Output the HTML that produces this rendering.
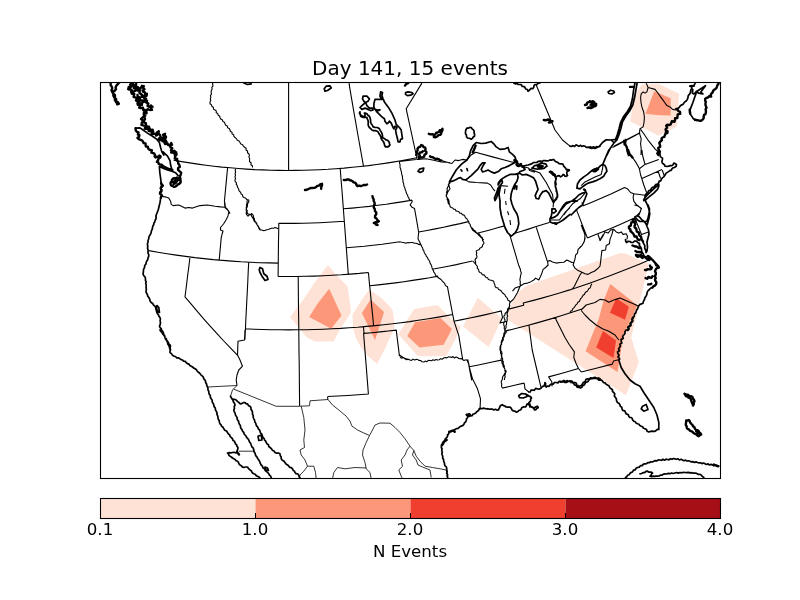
<!DOCTYPE html>
<html><head><meta charset="utf-8"><title>Day 141, 15 events</title>
<style>
html,body{margin:0;padding:0;background:#fff;}
body{width:800px;height:600px;overflow:hidden;position:relative;font-family:"DejaVu Sans","Liberation Sans",sans-serif;color:#000;}
svg{position:absolute;left:0;top:0;}
text{font-family:"DejaVu Sans","Liberation Sans",sans-serif;fill:#000;}
</style></head><body>
<svg width="800" height="600" viewBox="0 0 800 600">
<defs><clipPath id="ax"><rect x="100.5" y="82.5" width="620" height="396"/></clipPath></defs>
<rect x="0" y="0" width="800" height="600" fill="#fff"/>
<g clip-path="url(#ax)">
<g stroke="none">
<path d="M328,265 L336.2,275 L347.5,286.2 L349.4,298.8 L351,312.5 L346.2,320 L340,328.8 L333.8,341.5 L315,341.5 L306.9,337.5 L290,316.9 L303.8,299 L313.8,283.8 L322.5,272Z" fill="#fee2d5"/>
<path d="M329.2,288.8 L341.5,315.5 L331.2,328.8 L309.2,317 L317.5,303.8Z" fill="#fc9879"/>
<path d="M369.4,289.4 L382.5,298.8 L392.5,309.4 L393.8,317.5 L394.4,328.1 L388.8,340 L384.4,350 L377,364 L366.9,355 L361.2,347.5 L356.2,338.8 L353.1,328.1 L352.5,314.4 L362.5,298.8Z" fill="#fee2d5"/>
<path d="M370.6,299.4 L384,311.9 L381.2,321.2 L375,340 L361.9,313.1Z" fill="#fc9879"/>
<path d="M398.5,334.3 L408,318.5 L414.2,309 L435.5,305.3 L437.8,305.3 L446,313.7 L455.3,322.4 L461,327.1 L455.3,339.5 L446.8,355 L445.5,356.2 L419.2,356.2 L417.4,355.7 L407.8,345Z" fill="#fee2d5"/>
<path d="M407.3,336 L415.1,322.3 L440.5,318 L451.9,329 L443.7,344.7 L419.5,347.5Z" fill="#fc9879"/>
<path d="M477.8,297.8 L502,318.5 L488.6,346.9 L463,326.5Z" fill="#fee2d5"/>
<path d="M620.5,253 L626.2,253.8 L636,258.5 L649,263.5 L631.2,337.5 L638.8,362 L626,395.3 L508.3,320.3 L508,316 L509.1,309.8 L512.5,301.1 L519.6,291.4 L526,286Z" fill="#fee2d5"/>
<path d="M610.3,284 L637.3,305.3 L632.5,316.2 L625,331.2 L622.5,341.2 L619.4,360 L617.5,372 L585.6,351.2 L598.8,318.8 L603.8,300Z" fill="#fc9879"/>
<path d="M616.2,298.3 L628.9,306.7 L625,319.8 L610,312.8Z" fill="#f03f2e"/>
<path d="M603,331 L616,340.4 L613.5,358 L596.2,347.6Z" fill="#f03f2e"/>
<path d="M642.2,84.3 L659.5,84.3 L679,93.7 L678.2,109.5 L676.7,126.7 L658.7,135.7 L642.2,127.5 L630.2,121.5 L632.5,106.5 L637.7,90Z" fill="#fee2d5"/>
<path d="M654.2,91.2 L670.7,98.2 L670.7,115.5 L658.7,115.2 L645.5,113.7Z" fill="#fc9879"/>
<path d="M577,325.2 L578,325.2 L577.5,326.2Z" fill="#ffffff"/>
</g>
<g fill="none" stroke="#000" stroke-width="1.1" stroke-linejoin="round">
<path d="M227.6,167.6 L226.8,176.1 L226,184.6 L225.2,193 L224.4,201.5 M221.3,236.9 L220.6,244.7 L219.9,252.4 L219.2,260.1 M148.7,250.6 L157.9,252.2 L167.1,253.7 L176.3,255.1 L185.6,256.4 L194.8,257.6 L204.1,258.6 L213.3,259.6 L222.6,260.4 L231.9,261.1 L241.1,261.8 L250.4,262.3 L259.7,262.7 L269,262.9 L278.2,263.1 M190,257 L188.8,266.9 L187.5,276.8 L186.3,286.8 L185,296.8 L191.2,304.2 L197.5,311.7 L203.9,319.1 L210.4,326.4 L217,333.7 L223.8,341 L230.6,348.2 L237.6,355.3 M248.7,262.2 L248.2,271.8 L247.8,281.5 L247.3,291.2 L246.8,300.8 L246.3,310.5 L245.8,320.2 L245.4,329.9 L244.9,339.7 M278.1,276.4 L278.2,267.6 L278.3,258.7 L278.4,249.8 L278.5,241 L278.7,232.2 L278.8,223.3 L287,223.4 L295.2,223.4 L303.4,223.2 L311.6,223 L319.8,222.7 L328,222.3 L336.1,221.8 L344.3,221.3 M340.2,168.4 L341,179 L341.9,189.5 L342.7,200.1 L343.5,210.7 L344.3,221.3 L345.1,231.8 L345.9,242.4 L346.7,253 L347.5,263.6 L348.3,274.3 M278.1,276.4 L287.1,276.5 L296.2,276.5 L305.2,276.3 L314.2,276.1 L323.3,275.7 L332.3,275.3 L341.3,274.8 L350.3,274.1 L359.4,273.4 L368.4,272.5 M298.2,276.4 L298.3,287.2 L298.4,297.9 L298.5,308.7 L298.7,319.4 L298.8,330.2 L298.9,341 L299,351.8 L299.2,362.7 L299.3,373.5 L299.4,384.4 L299.5,395.3 L299.6,406.3 M245.4,328.8 L254.1,329.2 L262.7,329.5 L271.4,329.7 L280,329.8 L288.7,329.9 L297.3,329.8 L306,329.7 L314.6,329.5 L323.3,329.2 L332,328.8 L340.6,328.4 L349.3,327.8 L357.9,327.2 L366.5,326.4 L375.2,325.6 L383.8,324.7 L392.5,323.8 L401.1,322.7 L409.7,321.6 L418.3,320.3 L426.9,319 L435.5,317.6 L444.1,316.1 L452.7,314.5 M368.4,272.5 L369.4,283.1 L370.5,293.8 L371.5,304.4 L372.6,315.1 L373.6,325.8 M369.7,285.8 L378.3,284.9 L386.9,283.9 L395.4,282.9 L404,281.7 L412.5,280.4 L421.1,279.1 L429.6,277.7 L438.1,276.1 M363.5,326.7 L364,333.4 L363.6,333.4 L364.4,343.5 L365.2,353.6 L366,363.6 L366.8,373.8 L367.6,383.9 L368.4,394 L358.1,394.8 L347.9,395.5 L337.7,396 L327.5,396.5 M364,333.4 L372.1,332.7 L380.2,331.9 L388.2,331 L396.3,330.1 L397.3,338.7 L398.4,347.4 L399.4,356.1 M343.4,208.8 L352,208.1 L360.6,207.3 L369.2,206.4 L377.7,205.3 L386.3,204.2 L394.9,202.9 L403.4,201.6 L412,200.1 M346.3,247.7 L355.3,247 L364.3,246.2 L373.2,245.2 L382.2,244.2 L391.1,243 L400,241.8 M412,200.1 L412.1,201.7 L410.2,204.8 L412.1,207.3 L414.5,208.4 L416.6,220.2 L418.6,232 L427,230.5 L435.3,228.9 L443.6,227.2 L451.8,225.4 L460.1,223.6 L468.4,221.6 M432.1,269.3 L440.2,267.8 L448.3,266.2 L456.4,264.6 L464.5,262.8 L472.5,261 M447.4,286.4 L449,295.1 L450.7,303.8 L452.3,312.5 L454,321.2 L458.8,335.6 L462.6,359.1 M454,321.2 L461.9,319.6 L469.9,318 L477.8,316.4 L485.8,314.6 L493.7,312.8 L501.6,310.9 M467.8,359.4 L469.7,369.8 L471.7,380.3 M469.2,366.7 L477.2,365.2 L485.3,363.5 L493.4,361.8 L501.4,360.1 M502.1,388.1 L509.4,386.5 L516.7,384.8 L524,383.1 M504.9,331.1 L512.7,329.2 L520.5,327.2 L528.3,325.2 L536.1,323.1 L543.9,320.9 L551.7,318.6 L559.5,316.2 L567.3,313.8 L575.1,311.3 L582.8,308.8 M587.4,237.9 L595.2,234.8 L602.9,231.7 L610.7,228.5 L618.4,225.2 L626.1,221.8 L633.8,218.3 M587.4,237.9 L583.6,228.2 L579.9,218.6 L576.1,208.9 M581.8,202.4 L583.2,205.8 L590.1,202.9 L597.1,200 L604,197 L610.9,194 L617.8,190.8 L624.6,187.6 M547.3,261.1 L543.6,249.8 L539.9,238.6 L536.3,227.4 M513,233.8 L520.7,231.5 L528.5,229.1 L536.2,226.6 L549.3,222.5 M509.8,234.8 L512.8,245.2 L515.9,255.7 L518.9,266.2 M477.1,233.3 L484,231.5 L490.8,229.7 L497.6,227.8 L504.4,225.9 M288.6,170.5 L288.6,155 L288.6,139.6 L288.6,124.2 L288.6,108.7 L288.6,93.3 L288.6,77.8 M363.5,166.2 L358.8,140 L354.2,113.8 L349.7,87.7 L347.9,74.5 L344.9,48.1 M159.4,165.6 L167.5,169 L173.1,170.6 M161.2,196.5 L165.6,196.9 L168.8,198.1 L170.6,201.2 L171.2,204.4 L173.1,205.6 L178.8,205 L185,208.1 L188.8,207.5 L192.5,208.1 L200,205.6 L207.5,205 L215,206.2 L220.6,206.9 L224.4,207.2 M224.4,202.5 L225,207.5 L228.8,211.2 L230,213.8 M235.5,168.8 L235.2,170.3 L235.6,172 L235.1,173.6 L235.5,175.2 L235,176.8 L235.5,178.4 L235,180 L235.2,181.6 L236.4,182.7 L236.3,184.4 L237.3,185.7 L237.4,187.2 L238.5,188.5 L238.8,190 L239.4,191.4 L240.7,192.3 L241,193.9 L242.4,194.8 L242.7,196.4 L243.8,197.5 L245.5,198.1 L246.9,199.5 L248.8,200 L248.8,201.8 L247.7,203.3 L247.5,205 L247.3,206.7 L246.5,208.3 L246.2,210 L246.4,211.8 L246.2,213.5 L246.9,215 L248,216.2 L249,215.1 L250.5,214.6 L251.5,213.5 L252.7,214.6 L253.5,216 L253.4,217.4 L254.4,218.6 L254.5,220 L255.2,221.6 L256.6,222.8 L257,224.5 L257.8,226.1 L259,227.5 L259.8,228.6 L260,230 M213,82.5 L212.5,84.1 L213,85.9 L211.8,87.4 L212.1,89.2 L211.2,90.8 L211.2,92.5 L211.4,94.1 L210.4,95.7 L210.9,97.3 L210.3,98.9 L210.8,100.6 L210,102.1 L210,103.8 L211.4,104.7 L211.9,106.4 L213.3,107.2 L213.6,109.1 L215,110 L216.3,110.9 L216.2,112.8 L217.8,113.5 L218.1,115.2 L219.6,116 L220,117.5 L220.7,119 L222.3,119.7 L222.9,121.4 L224.4,122.2 L225,123.8 L225.7,125.2 L227.3,126 L227.6,127.8 L229.3,128.5 L230,130 L230.4,131.6 L232,132.3 L232.1,134 L233.7,134.7 L233.9,136.4 L235,137.5 L236.4,138.6 L237.3,140.2 L239,141 L240,142.5 L240.9,144.1 L242.7,144.8 L243.6,146.4 L245,147.5 L246.2,148.5 L246.1,150.3 L247.6,151.1 L247.5,152.8 L248.8,153.8 L249.4,155.3 L248.9,156.9 L249.6,158.4 L249.5,160 L249.6,161.7 L251.1,162.8 L250.9,164.7 L252.4,165.8 L252.5,167.5 M421.9,83.1 L406.2,108.8 L416.2,155 M399.5,161.5 L399.5,163.1 L400.1,164.6 L400,166.2 L400.1,167.8 L400.8,169.1 L400.9,170.6 L401.5,172.1 L401.6,173.6 L402,175 L402.5,176.6 L402.4,178.4 L403,180 L402.9,181.7 L403.6,183.3 L403.8,185 L404.1,186.5 L404.9,188 L405.1,189.5 L405.9,191 L406.2,192.5 L406.8,194 L407.6,195.3 L408,196.8 L408.9,198.1 L409.3,199.6 L410,201 M465.6,180 L468.8,181.9 L476.2,182.5 L487.5,183.1 L490.6,185 L493.1,188.8 L495,191.2 M449.4,181.9 L448.8,185 L450,188.8 L447.5,192.5 L446.2,196.2 L448.8,200 L449.4,205 M500,185.6 L508.1,186.2 M505,188.8 L504.4,193.8 M505.6,201.2 L506.2,205 M507.5,211.2 L508.8,215 M510,220 L510.6,225 M470,225 L472.5,230 L477.5,233.8 L482.5,238.8 L483.8,240 M639.4,133.1 L641.2,138.8 L640.6,143.8 L641.2,148.8 L641,155 M640.6,129.4 L643.8,133.8 L648.8,141.2 L655,148.8 L658.8,152.5 M632.5,157.5 L635.6,161.9 L638.1,166.2 L639.4,168.8 L640.6,175 L641.9,178.8 L643.8,185 L645.6,190 L646.9,193.1 M641.9,150 L642.5,155 L643.8,160 L645,164.4 M639.4,168.8 L645,164.4 L658.8,159.4 M641.9,178.5 L658.1,171.2 L661.9,169.6 M658.1,171.2 L660.6,178.5 M662.2,170 L664.4,176 M624.4,187.5 L627.5,188.8 L630.6,192.5 L633.8,193.8 L633.1,197.5 L633.8,201.2 L636.2,204.4 L639.4,206.9 L641.2,208.8 L640,212.5 L637.5,215 L635.6,216.9 M633.8,193.8 L645,195.2 M583.5,230 L585,235.6 L584.4,241.2 L581.9,245.6 L580,246.9 M598.1,234.4 L600,240.6 L603.1,235.6 L605,231.9 L608.1,233.1 L610.6,230 L613.8,229.4 L616.2,231.9 L618.8,233.1 L621.2,231.9 L623.1,234.4 L626.2,233.8 L627.5,236.2 L626.9,239.4 M247.5,200 L246.9,201.4 L247.2,203 L246.5,204.5 L246.7,206 L246.2,207.5 L246.3,209.1 L247.2,210.6 L247.1,212.2 L247.5,213.8 L249.4,214.3 L251.2,215 L251.9,216.7 L253.1,218.3 L253.8,220 L254.4,221.5 L255.7,222.4 L256.4,223.8 L257.5,225 L258.5,226.6 L258.9,228.5 L260,230 L261.7,230 L263.3,230.6 L265,230.5 L266.6,229.7 L268.4,229.5 L270,228.8 L271.6,228.2 L273.4,228.2 L275,227.5 L276.6,228 L278,228.8 M245,330 L244.5,340 L238,341.2 L237.5,355 L240,360 L242.5,366.2 L238.8,370 L237,375 L236.2,380 L237,385.5 M327.5,397 L328,399.5 M399.5,355 L403.8,358 L410,360 M469,365.8 L472.5,378.8 L477.5,388.8 L480.5,398.8 L480,410 M507.5,330 L506.4,331.1 L506.1,332.6 L505.1,333.6 L504.5,335 L504.2,336.6 L503.1,338 L503.4,339.8 L502.5,341.2 L501.6,342.7 L501.6,344.5 L500.3,345.8 L500,347.5 L500.8,349 L500.7,350.7 L501.8,352.1 L502,353.8 L501.6,355.4 L501.9,357.2 L501.1,358.8 L501.2,360.5 L502,361.8 L502,363.4 L503,364.6 L503,366.2 L503.8,367.5 L504.7,368.7 L505.2,370.1 L506.2,371.2 L505.7,372.6 L504.4,373.6 L504,375.1 L503,376.2 L502.4,377.8 L502.4,379.5 L501.4,380.9 L501.2,382.5 L501.8,384.1 L501.5,385.9 L502,387.5 M524.2,383.2 L525,388.8 L528.8,392 M400,357 L401.5,358.1 L403.6,357.5 L405,358.8 L406.5,359.7 L408.4,359.3 L410,360 L411.5,360.4 L413,359.1 L414.5,360 L416,359.4 L417.5,359.5 L418.9,360.4 L420.7,360.5 L422,361.8 L423.8,362 L425.2,361.1 L427,361.7 L428.3,360.4 L430,360.5 L431.5,360.7 L433,359.8 L434.5,360.4 L436,359.5 L437.5,360 L439.2,359.8 L440.5,358.7 L442.4,359.1 L443.8,358 L445.3,357.5 L446.9,357.9 L448.4,356.9 L450,357 L451.5,357.4 L453,356.6 L454.5,358 L456,357 L457.5,357.5 L458.9,358.7 L461,358.5 L462.5,359.5 L464,360.5 L465.9,359.8 L467.5,360.5 L467.8,362.3 L468.9,363.9 L469,365.8 M418.8,231.8 L418,238.8 L421.2,245.2 M400.2,241.8 L401.8,242.3 L403.4,242.5 L405,243 L406.5,243.1 L408,242.6 L409.5,242.8 L411,242.5 L412.5,242.5 L414.1,243.1 L415.9,243.2 L417.5,243.8 L418.7,244.4 L420.1,244.6 L421.2,245.2 L421.7,246.7 L422.7,248 L422.9,249.6 L423.9,250.9 L424.2,252.4 L425,253.8 L425.9,254.9 L426.3,256.4 L427.4,257.4 L427.9,258.8 L428.8,260 L429.7,261.6 L430.2,263.4 L431.2,265 L431.8,266.4 L432,267.9 L432.5,269.2 L433.4,270.6 L433.8,272.2 L434.9,273.4 L435.4,274.9 L436.2,276.2 L437.6,276.9 L438.7,278 L440,278.8 L441.4,279.9 L442.4,281.3 L443.8,282.5 L444.8,283.6 L445.2,285.1 L446.2,286.2 L448,286.5 M473,261 L476.2,265 M450.8,180 L449.7,181.3 L449.9,183.2 L448.4,184.3 L448.4,186.1 L447.5,187.5 L447,189 L447.4,190.6 L446.5,192 L446.9,193.6 L446.2,195 L446.4,196.6 L447.4,197.9 L447.1,199.5 L448,200.9 L448,202.5 L448.6,203.9 L449.8,204.9 L450,206.5 L451.2,207.5 L452.7,208 L453.6,209.2 L455.2,209.3 L456,210.9 L457.5,211.2 L458.9,211.7 L459.8,213.1 L461.4,213.2 L462.3,214.6 L463.8,215 L464.9,216.1 L465.4,217.7 L466.8,218.6 L467.5,220 L468.8,221.5 L468.9,223.2 L470.2,224.4 L470.4,226.1 L471.2,227.5 L472.7,228.5 L473.6,230.1 L475.3,230.9 L476.2,232.5 L477.3,233.6 L479,233.8 L480,235 L480.5,236.5 L482.1,237.2 L482.5,238.8 L482.5,240.5 L483.7,242 L483.8,243.8 L482.6,244.8 L482.4,246.5 L481.2,247.5 L479.8,248.2 L479.1,249.8 L477.4,250.2 L476.2,251.2 L476.8,252.9 L476.3,254.6 L477,256.2 L476.8,257.7 L475.5,258.7 L475,260 L475.6,261.6 L475.5,263.4 L476.2,265 L477.4,266.4 L477.2,268.3 L478.6,269.5 L478.8,271.2 L479.8,272.5 L481.4,273.1 L482.2,274.6 L484,274.9 L485,276.2 L486,277.5 L487.7,277.9 L488.4,279.5 L490,280 L491.9,280.4 L493.8,281.2 L494,283 L494.8,284.5 L495,286.2 L496,287.6 L497.8,287.8 L498.5,289.4 L500,290 L501.4,291.1 L502.3,292.7 L503.8,293.8 L505,294.8 L505.5,296.4 L506.8,297.4 L507.5,298.8 L508,300.3 L509.5,301.1 L510,302.5 L509.4,304.1 L509.6,305.9 L508.8,307.5 L507.5,309 L507.4,311 L506.2,312.5 L505.1,313.5 L504.9,315.2 L503.8,316.2 L504.2,318.2 L505,320 L504.8,321.7 L503.7,323.2 L503.8,325 L504.4,326.6 L504.2,328.4 L505,330 M519.2,266 L519.7,267.7 L520.4,269.2 L520.5,270.9 L521.2,272.5 L521.1,274.1 L520.5,275.6 L520.4,277.2 L520,278.8 L519.9,280.3 L520.4,281.9 L520.1,283.5 L520.5,285 M512.5,291.2 L515,288.1 L520,286.2 L523.8,283.8 L527.5,283.1 L530.6,281.9 L533.8,280 L535.6,278.1 L538.8,280 L540.6,276.2 L541.9,273.1 L543.1,269.4 L545.6,267.5 L548.1,265 L547.5,261.2 L550,260.6 L552.5,261.9 L556.2,263.1 L560,262.5 L563.8,262.2 L566.9,260 L569.4,261.2 L571.9,262.5 L574,262.2 L575,258.8 L575.6,255 L577.5,253.1 L578.1,249.4 L580,247.5 L581.9,245.6 L583.8,242.5 L585,238.8 L584.8,233.8 L583.1,230 L581.9,226.9 L581.2,225 M598.1,234.8 L600,240 L601.9,236.9 L603.1,234.4 M574,262.2 L573.1,265 L575,268.1 L578.1,270.6 L581.9,272.2 L585,273.8 L588.1,274.4 L591.2,272.5 L594.4,271.2 L597.5,268.8 L600,266.2 L600.6,261.9 L601.2,256.2 L601.9,250.6 L605.6,250 L606.2,245.6 L609.4,243.8 L610,239.4 L611.9,234.4 L613.1,230 M581.9,272.2 L580,275 L578.1,278.8 L576.2,282.5 L574.4,286.2 L572.5,288.8 L570,290 M591.9,283.8 L591,285.2 L590.6,286.9 L590,288.1 L588.7,288.7 L588.1,290 L587.3,291.2 L585.9,291.9 L585,293.1 L584.4,294.4 L583.2,295.1 L582.5,296.2 L581.8,297.6 L580.7,298.6 L580,300 L579.3,301.5 L577.8,302.3 L577.2,303.9 L575.9,304.9 L575,306.2 L574.1,307.6 L572.8,308.6 L572.3,310.2 L570.8,311.1 L570,312.5 M510,302.5 L513.8,298.8 L517.5,292.5 L519.5,287.5 L520.5,285 M508.6,309.1 L523.7,305.2 L523.2,303 L532.5,300.6 L541.8,298.1 L551.1,295.5 L560.4,292.7 L569.7,289.9 L579.9,286.5 L590.2,283 L600.4,279.3 L610.6,275.5 L620.8,271.6 L631,267.6 L641.1,263.4 L651.2,259.1 M501.2,311.2 L502.5,317.5 L500,323 L507,321.2 M510,305 L509.3,306.4 L509.3,308.1 L508.3,309.4 L508.1,311 L507.5,312.5 L507,314.2 L507.6,316 L506.9,317.7 L507.3,319.5 L507,321.2 L506.5,322.7 L506.6,324.3 L505.8,325.7 L506.2,327.3 L505.5,328.8 L504.8,330.2 L504.9,332 L503.9,333.3 L503.8,335 L503.4,336.6 L502.6,337.9 L502.4,339.5 L501.6,340.9 L501.2,342.5 L501.4,344.1 L500.5,345.5 L500.9,347.1 L500,348.5 L500,350 L500.7,351.4 L500.5,353.1 L501.4,354.5 L501.3,356.1 L502,357.5 L502.7,358.9 L502.5,360.5 L503.4,361.9 L503.1,363.6 L503.8,365 L504.4,366.4 L504.2,368.1 L505,369.5 L504.9,371.1 L505.5,372.5 L505.4,374 L504.8,375.5 L505.2,377 L504.4,378.5 L504.5,380 M581.2,310.5 L585,315 L590,320 L596.2,325 L602.5,328.8 L608.8,331.2 L615,335 L618.8,340 M536.2,85 L555,130 L562.5,140 L570,146.2 M581.2,310 L586.2,305 L595,302.5 L600,299.4 L605,300 L608.8,302.2 L613.8,300 L620,298.1 L627.5,301.2 L636.2,305 L638.1,306.2 M529,325.6 L532.2,350 L537.5,372.5 L541,387.5 M555.8,317.7 L556.2,320 L560,327.5 L565,337.5 L569,344.2 L574.4,351.9 L573.8,357.5 L576.2,363.8 L578.5,368.5 L581.3,372 M552.1,386.4 L551.8,381.8 L548.6,376.9 L561.2,373.5 L578.5,368.5 M581.3,372 L597.2,368 L612.3,364.1 L613.6,361 L620.4,359.3 M634.5,205 L638,206 L641.5,208.5 L640,212 L639,215 L636,216 L634.5,217.5 M634.5,217.5 L641.5,234.5 L648.5,232 M224.5,201 L225.5,207.5 L227.5,209.5 L228.8,212 L228,216 L226,220 L223.5,224 L220.5,227.5 L220.5,230 L223,231 L222,234.5 L221.2,238"/>
</g>
<g fill="none" stroke="#000" stroke-width="0.8" stroke-linejoin="round">
<path d="M207.5,387 L237,385.5 M237,385.5 L232.5,390 L230.5,396.2 M238.8,451.2 L255,451.2 M300,406.2 L309.5,405.8 L310,400.8 L328,399.5 M328,399.5 L332.5,405 L338.8,410 L346.2,416.2 L350,421.2 L352,426.2 L357.5,430 L363.8,433 L369.5,435.5 L372.5,430 L375,425 L380,423 L390,423.2 L395,427.5 L400,432.5 L405,438.8 L410,446.2 L413.8,450.5 L416.2,456.2 L420,461.2 L425,466.2 L432.5,467.5 L440,468.8 L446.2,470 L448,476.2 M301.2,406.2 L303.8,417.5 L305,430 L303.8,440 L304.5,447.5 L300,450 L301.2,455 L305,460 L307.5,466.2 L303.8,471.2 L300,475 L298.8,478.8 M369.5,435.5 L366.2,442.5 L363,450 L362.5,455 L365,462.5 L366.2,468.8 L370,472.5 L371.2,478.8 M307.5,466.2 L313.8,466.2 L315.5,472.5 L316.2,478.8 M332.5,478.8 L333.8,472.5 L337.5,467.5 L345,468.8 L355,467.5 L366.2,468 M410,446.2 L407,450 L405,455 L401.2,460 L402.5,466.2 L398.8,470 L401.2,476.2 L402.5,478.8 M413.8,450.5 L412.5,455 L416.2,460 L418,465 L422.5,467 L430,470 L431.2,477.5 M299.6,406.3 L276.2,406.3 L233.7,389.1"/>
</g>
<g fill="none" stroke="#000" stroke-width="1.1" stroke-linejoin="round">
<path d="M173.6,160.3 L181.7,161.6 L189.7,162.9 L197.8,164.1 L205.9,165.2 L214,166.2 L222.1,167.1 L230.3,167.8 L238.4,168.5 L246.5,169.1 L254.6,169.6 L262.8,169.9 L270.9,170.2 L279.1,170.4 L287.2,170.5 L295.3,170.4 L303.5,170.3 L311.6,170 L319.8,169.7 L327.9,169.3 L336,168.7 L344.1,168.1 L352.3,167.3 L360.4,166.5 L368.5,165.6 L376.6,164.5 L384.7,163.4 L392.8,162.1 L400.8,160.8 L408.9,159.3 L416.9,157.7 M612.4,147.4 L619.3,143.9 L626.3,140.2 L633.3,136.6 L640.2,132.8 M399.5,161.5 L416.2,159.5 L417,155 M417,159.5 L426.2,158.8 L435,160.5 L441.2,162 L450,162.5 M440,160 L443.8,161.2 L448.8,162.8 L451.9,163.5 L455,160 L458.8,160.6 L462.5,159.4 L466.9,160 L471.2,155 L475.6,152.2 L492.5,156.9 L514.8,162.8 M528.8,168.8 L540,173.1 L546.2,182.5 L552.5,194.4 L553.5,202.5 L553.1,207.5 M581.2,185.6 L585,181.9 L595,176.9 L601.2,174.4 L602.5,168.8 L603.1,164.4 M585,193.1 L580,198.8 L572.5,203.8 L567.5,210 L563.8,215 M550.6,220 L559.4,220 L565,212.5 L570,207.5 M613.8,146.2 L639.4,133.1 M646.2,83.1 L648.1,87.5 L646.9,91.9 L645,93.1 L643.1,91.9 L641.2,93.8 L640.6,97.5 L641,102.5 L641.9,106.9 L643.8,112.5 L644.4,117.5 L644,122.5 L643.1,126.9 L640,128.8 L639.4,133.1 M648.1,87.5 L655,89.4 L657.5,92.5 L660.6,96.9 L663.8,101.2 L666.9,105.6 L670,106.9 L672.5,109.4 L676.2,110 L677.5,109.6 M513.5,160.8 L523.5,166.8 L528.5,168 L529.5,170.5 L535,172.2"/>
</g>
<g fill="none" stroke="#000" stroke-width="1.7" stroke-linejoin="round" stroke-linecap="round">
<path d="M135.6,128.1 L140,127.9 L143.1,130 L147.5,133.1 L152.5,136.2 L156.9,139.4 L159.4,142.5 L160.6,147.5 L161.9,151.9 L163.8,155 M163.1,151.9 L163.8,152.5 L167.5,156.2 L170,160.6 L170.6,165 L171.9,169.4 L172.8,170 M162.5,165.6 L167.5,168.1 L171.2,169.4 L172.8,170 M159.4,166.5 L163.1,168.1 L167.5,170 L171.9,171.2 L175.6,172.8 L178.1,175.6 M159.4,166.5 L159.8,172.5 L160.5,177.5 L161.2,183.1 L162.8,185.6 L160.8,187.5 L161.5,190 L160,193.8 L162,195.6 L160.8,197.8 L160,202.5 L158.2,210 L156.2,215 M243.8,83 L247.5,84.5 L251.2,83.8 M375,99.4 L381.9,99.4 L380,96.2 L380.6,91.9 L382.5,92.5 L381.9,95.6 L383.1,98.8 L384.4,101.9 L388.1,106.9 L391.9,113.1 L395,120 L396.2,124.4 L399.4,127.5 L401.2,130 L401.9,135 L402.5,138.8 L400.6,139.4 L400,141.9 L398.1,141.9 L397.2,137.5 L396.2,133.8 L395.6,130 L396.9,127.5 L395,126.2 L393.8,128.8 L392.5,126.2 L391.2,123.1 L389.4,121.2 L388.1,123.1 L386.9,123.8 L385,121.2 L384.4,118.8 L381.9,116.9 L379.4,114.4 L376.9,111.9 L375.6,110 L378.8,110.6 L380,109.8 L377.5,110 L375,109.4 L373.8,106.9 L374,103.1 L375,99.4 M363.1,96.2 L366.9,96.2 L369.4,98.8 L368.1,101.2 L365.6,102.5 L363.8,101.2 L362.5,98.8Z M365.6,102.5 L361.9,105.6 L360,107.5 L361.9,109.4 L365,108.1 L368.1,109.4 L370.6,110.6 L373.1,110 L372.5,108.1 L369.4,108.1 L366.9,105.6 L365.6,102.5 M360,111.9 L360,113.5 L360.6,115 L362,115.8 L363.1,116.9 L365,115.6 L365,114.3 L364.4,113.1 L365.7,113.2 L366.9,113.8 L367.9,115.3 L369.4,116.2 L370.1,118.1 L370.6,120 L370.6,121.9 L371.2,123.8 L372.4,125.2 L373.1,126.9 L375,127.4 L376.9,127.5 L378.2,127.9 L379.4,128.8 L380.2,130.4 L381.2,131.9 L382.1,133.7 L382.5,135.6 L382.5,137 L383.1,138.1 L384.5,138.5 L385.5,139.6 L386.9,140 L388.4,141 L389.4,142.5 L389.4,143.8 L390,145 L389.2,146 L388.1,146.9 L386.9,146.7 L385.6,146.9 L384.7,145.8 L384.4,144.4 L384,142.7 L383.1,141.2 L382.1,140.1 L381.2,138.8 L380.9,136.8 L380,135 L378.9,133.6 L378.1,131.9 L376.7,131 L375,130.6 L373.4,130.6 L371.9,130 L370.7,128.6 L369.4,127.5 L368.5,126 L368.1,124.4 L368.3,122.5 L368.1,120.6 L367.4,119.1 L366.9,117.5 L365.3,117.1 L363.8,117.5 L362.1,117.1 L360.6,116.2 L360.3,114.6 L359.4,113.1 L360,111.9 M405.6,92.5 L408.1,91.9 L411.9,92.5 L413.1,93.8 L410.6,95.2 L407.5,95.6 L405.6,94.4Z M418,171.2 L420,168.8 L423.8,168 L423,171.2 L420,172.5Z M324.2,88.8 L326.2,86.2 L330,85.8 L331.2,88 L327.5,90.5 L325,91.2Z M449.4,181.9 L452.5,176.2 L456.2,170 L461.2,164.4 L466.9,160 L469.4,155.6 L470.6,150.6 L473.1,145.6 L476.2,142.5 L481.2,143.5 L485.6,143.1 L491.2,141.5 L493.8,143.8 L496.2,146.9 L500,149.4 L505,148.8 L508.1,147.5 L509.4,151.9 L512.5,154.4 L515,156.9 L516.2,160.6 L515,162.5 L513.1,163.5 L509.4,165.6 L505,167.5 L501.2,168.8 L498.8,171.2 L494.4,173.1 L491.2,171.9 L488.1,170 L485,171.2 L482.5,171.9 L481.2,169.4 L483.1,165.6 L485,162.8 L482.5,162.8 L480,165.6 L478.1,168.8 L475,171.9 L471.2,175.6 L468.1,178.1 L465.6,180 L462.5,179.4 L460.6,177.5 L458.8,178.1 L456.2,179.4 L452.5,181.2Z M466.9,168.5 L467.5,170.6 M461,169.8 L461.9,171 M519.4,173.1 L515,174.4 L510,174.4 L506.2,176.2 L503.1,178.1 L500.6,180 L498.5,182.5 L498.1,185 L500,181.9 L501.9,180 L502.5,182.5 L500.6,185 L498.1,188.1 L496.9,191.9 L495.6,195 L494.4,198.1 L495,200.6 L496.5,197.8 L497.8,194.4 L500,186.2 L500.6,185.6 L499,194.4 L500,201.2 L500,207.5 L501.2,215 L503.1,221.2 L505,227.5 L507.5,232.5 L510.6,235.6 L511.2,236.2 L515,233.1 L517.5,228.8 L518.8,223.8 L518.1,217.5 L516.9,213.8 L513.8,208.8 L511.9,203.8 L510.6,198.8 L511.2,193.8 L512.5,189.4 L514.4,185 L516.9,181.2 L518.1,177.5 L517.5,174.4 L519.4,173.1 M515.6,185.6 L514.4,188.8 M516.9,186.2 L516.5,189.4 M519.4,173.1 L522.5,175 L526.2,174.4 L530.6,176.2 L533.8,178.1 L535.6,181.2 L536.9,185.6 L538.1,189.4 L536.2,193.1 L535.2,195.6 L536.2,198.5 L538.8,198.8 L540,195.6 L542.5,191.9 L546.2,190.6 L548.8,193.1 L550.6,196.9 L552.5,200.6 L553.5,202.5 M553.5,202.5 L555,200 L557.5,196.9 L556.9,191.9 L555.6,186.9 L555,182.5 L556.2,178.8 L555,175.6 M551.9,208.8 L555,208.8 L556.2,211.2 L553.8,213.1 L551.9,211.9Z M551.9,213.1 L551.2,216.2 L550,218.8 L550,221.9 M530,164.4 L531.7,163.9 L533.2,162.7 L535,162.5 L536.8,162.5 L538.2,161.3 L540,161.2 L541.7,161.4 L543.3,160.7 L545,160.6 L546.9,160.8 L548.8,160.6 L550.1,159.9 L551.8,160.1 L553.1,159.4 L554.3,160.1 L555.1,161.2 L556.2,161.9 L557.6,162.3 L558.6,163.4 L560,163.8 L561.6,163.8 L563.1,164.4 L563.5,165.7 L564.4,166.9 L565.5,168 L566.2,169.4 L567.5,169.8 L568.8,170 L568,171.1 L566.9,171.9 L566.8,173.8 L567.5,175.6 L566.3,176.3 L565,176.2 L564.3,175.1 L563.1,174.4 L562.2,175.9 L560.6,176.9 L559.5,175.9 L558.1,175.6 L556.2,176.9 L555.3,175.8 L555,174.4 L553.1,173.1 L552.1,171.9 L550.6,171.2 L549.4,171.9 L550.7,172.7 L551.9,173.8 L552.9,174.9 L554.4,175.6 L555.6,177.5 L556.1,179.2 L555.4,180.8 L555.6,182.5 L556.1,184.2 L555.3,185.8 L555.6,187.5 L556.3,189.1 L556.2,190.9 L556.9,192.5 L557.5,194.3 L557.5,196.2 L556.5,197.3 L556.6,198.9 L555.6,200 L554.4,201 L553.8,202.5 M531.9,168.1 L533.1,167.5 L533.8,166.2 L535,165.6 L536.9,165.2 L538.8,164.4 L540.5,163.4 L542.5,163.1 L544,163.7 L545.6,163.8 L546.4,164.9 L546.9,166.2 L545.5,167 L544.4,168.1 L542.5,168.7 L540.6,168.8 L539.2,168.6 L537.7,169.1 L536.2,169Z M537.5,166.9 L540.6,165.6 L543.1,166.2 L541.2,167.5Z M576.9,188.1 L577.5,183.8 L580,180 L583.8,176.9 L587.5,174.4 L591.2,171.2 L593.8,169.4 L598.1,168.1 L600.6,165.6 L602.5,164.4 L605,165.6 L606.2,168.1 L606.9,171.2 L605,173.8 L603.8,176.2 L600,178.8 L596.2,180.6 L592.5,181.9 L588.1,183.1 L585,185 L582.5,186.9 L580,188.8Z M585,190 L586.2,192.5 M585,192.5 L582.5,193.1 L578.8,195 L575,198.8 L573.1,200 L576.9,201.2 L571.2,201.2 L566.2,202.5 L563.8,205 L560.6,210 L557.5,215 M586.2,192.5 L586.9,193.8 L585,198.8 L583.1,203.1 L582.5,205 L578.8,207.5 L575,211.2 L571.2,215 M550,218.8 L555,216.9 L557.5,215 L560,211.2 L563.1,207.5 L566.2,203.8 L570,201.9 M550,221.9 L552.5,223.1 L557.5,223.1 L560,221.9 L563.1,220 L566.2,217.5 L570,214.4 M634.9,83.1 L633.6,90 L632.4,98.8 L630.5,106.2 L627.4,111.5 L623.6,116.5 L620.5,122.8 L619.1,128.4 L617.2,135 L615.6,139.4 L611.2,140 L606.2,139.8 L602.5,142.5 L599.4,146.2 L595,148.5 L590,146.9 M637.1,83.1 L635.9,90 L634.6,97.5 L632.8,105 L629.6,111 L625.9,116 L622.4,122.2 L620.9,128.5 L619,134.8 L616.9,140 L613.8,143.1 L610,148.8 L606.9,155 M611.2,140 L613.8,142.5 M623.8,140.6 L624.4,145 M608.1,91.9 L610.6,90.2 L613.8,91 L614.4,92.5 L611.9,94 L608.8,93.5Z M658.5,150 L658.6,151.4 L659.7,152.4 L660,153.8 L660.1,155.4 L660.6,156.9 L662.5,158.1 L662.4,159.7 L661.9,161.2 L662.1,162.7 L663.1,163.8 L664.5,164.7 L665,166.2 L666.9,166.5 L668.8,166.2 L670.2,165.6 L671.9,165.6 L673.2,164.6 L673.8,163.1 L675.6,163.8 L676.5,164.9 L676.2,166.2 L674.4,167.5 L673,167.8 L671.9,168.8 L671.4,170.1 L670,170.6 L668.1,171.9 L666.2,173.1 L665,175 L663.8,176.9 L662.3,177.9 L661.2,179.4 L660.8,180.8 L659.2,181.1 L658.8,182.5 L657.9,184 L656.1,184.4 L655,185.6 L654,187 L652.2,187.4 L651.2,188.8 L650.5,190.1 L648.9,190.5 L648.1,191.9 L647.5,193.1 L646.2,193.8 L645.3,195.2 L645,196.9 L644.8,198.2 L644,199.4 M643.8,199.4 L646.2,196.2 L650,192.5 L653.8,188.8 L656.9,186.2 L658.8,184.4 L658.8,186.2 L657.5,189.4 L653.8,193.1 L650,196.2 L646.2,199.4 L643.8,200.6Z M645,200 L646.9,203.8 L648.8,208.8 L649.8,213.8 L648.8,218.8 L647.5,223.8 L646.9,225 M602.5,165 L603.8,161.9 L606.2,156.2 L608.8,150 M156.2,215 L155.9,216.2 L156.2,217.5 L155.9,219 L155.1,220.3 L154.8,221.9 L153.9,223.1 L153.7,224.7 L152.9,226 L152.5,227.5 L152.3,229.2 L151.4,230.8 L151.2,232.5 L150.5,234.2 L149.5,235.8 L148.8,237.5 L148.7,239 L148,240.5 L148.1,242 L147.5,243.5 L147.5,245 L147.8,246.5 L147.5,248.1 L148.1,249.7 L148,251.2 L148,253 L148.7,254.6 L148.8,256.2 L148,257.8 L147.8,259.5 L146.8,260.9 L146.2,262.5 L145.9,264.2 L144.7,265.5 L144.6,267.3 L143.8,268.8 L143.4,270.4 L143.4,272.1 L143,273.8 L143.6,275.5 L145,276.9 L145.5,278.8 L145.4,280.3 L146.1,281.7 L145.7,283.3 L146.2,284.7 L146.2,286.2 L146.1,287.8 L146.4,289.4 L146,290.9 L146.2,292.5 L147.2,294.1 L147.7,295.9 L148.8,297.5 L149.7,299.1 L150.1,301 L151.2,302.5 L152.7,303.5 L153.6,305.1 L155,306.2 L155.8,308.1 L156.2,310 L156.7,311.9 L157.5,313.8 L158.5,314.9 L159,316.4 L160,317.5 L160.4,319.1 L160.1,320.9 L160.5,322.5 L160.2,324.4 L159.5,326.2 L160.1,327.6 L161.2,328.7 L161.6,330.1 L162.5,331.2 L163.4,332.7 L163.6,334.4 L164.7,335.8 L165,337.5 L165.6,339.3 L166.8,340.7 L167.5,342.5 L167.9,344.3 L169,345.8 L169.5,347.5 L169.8,348.8 L170.5,350 M157,305.5 L158.8,307.5 L159.5,312.5 L157.5,311.2 L156.5,308Z M260,267.5 L262.5,268.8 L263.8,273.8 L267,276.2 L268,279.5 L265,280.5 L262,276.2 L260,272.5 L259.2,269.5Z M160,330 L160.8,331.4 L162,332.4 L162.6,333.9 L163.8,335 L164.6,336.2 L165,337.7 L166.3,338.6 L166.5,340.1 L167.5,341.2 L168.4,342.4 L168.7,343.9 L170,344.9 L170.5,346.2 L170,347.8 L170.5,349.4 L170,350.9 L170,352.5 L171.4,353.6 L172.4,355.1 L173.8,356.2 L175.4,356.5 L176.8,357.8 L178.5,357.9 L180,358.8 L181.1,359.7 L182.6,360 L183.6,361.2 L185.2,361.4 L186.2,362.5 L187.4,363.6 L188.9,364.1 L189.9,365.5 L191.2,366.2 L192.6,367 L193.7,368 L195,368.8 L196.5,369.8 L197.4,371.4 L198.8,372.5 L200.1,373.6 L201.1,375.1 L202.5,376.2 L203.5,377.4 L203.7,378.9 L204.9,379.9 L205.5,381.2 L205.7,382.8 L206.6,384.1 L206.8,385.6 L207.5,387 L208,388.3 L207.9,389.8 L208.7,391.1 L208.8,392.5 L209.2,394.1 L210.3,395.5 L210.3,397.3 L211.2,398.8 L212.2,400.2 L212.2,402 L213.2,403.4 L213.8,405 L214.1,406.7 L215.3,408 L215.4,409.8 L216.2,411.2 L217,412.7 L216.9,414.4 L217.7,415.9 L218,417.5 L218.2,419.2 L219.2,420.6 L219.4,422.2 L220,423.8 L221.1,424.9 L221.7,426.4 L223.1,427.3 L223.8,428.8 L224.8,430.2 L226.5,431 L227.5,432.5 L228.3,433.9 L229.6,434.8 L230.1,436.4 L231.2,437.5 L232.4,438.6 L232.9,440.2 L234.3,441.1 L235,442.5 L235.5,443.9 L236.7,444.9 L237,446.4 L238,447.5 L237.8,449.2 L237.1,450.8 L237,452.5 L235.5,452.8 L234,452.3 L232.5,452.5 L230.9,452.9 L229.2,452.7 L227.5,453 L228.4,454 L229,455.3 L230,456.2 L231.4,456.9 L232.4,458.1 L233.8,458.8 L235.1,459.4 L236.1,460.7 L237.5,461.2 L238.5,462.4 L239,463.9 L240,465 L241.3,465.7 L242.3,466.9 L243.8,467.5 L245.6,467 L247.5,467 L248.6,468.7 L250,470 L251.5,471 L252.2,472.8 L253.8,473.8 L255.2,474.3 L256.1,475.6 L257.5,476.2 L258.9,476.9 L260,478 L261.1,479.2 L262.5,480 M230.5,396.2 L231.1,397.6 L232,398.8 L233,400.2 L233.4,401.9 L234.5,403.3 L235,405 L234.2,406.6 L234.5,408.4 L233.8,410 L234.2,411.6 L235.1,413.1 L235.4,414.8 L236.2,416.2 L237.1,417.7 L237.2,419.5 L238.4,420.8 L238.8,422.5 L239.3,424.1 L240.4,425.5 L240.5,427.2 L241.2,428.8 L242.2,429.9 L242.6,431.3 L243.8,432.3 L244.1,433.9 L245,435 L246.1,436.1 L246.7,437.6 L247.9,438.7 L248.8,440 L249.4,441.7 L250.6,443.2 L251.2,445 L251.9,446.8 L253.3,448.2 L253.8,450 L254,451.8 L255.1,453.3 L255.5,455 L256.2,456.3 L257.2,457.4 L257.8,458.8 L258.8,460 L259.7,461.6 L260.3,463.4 L261.2,465 L262.4,466.1 L262.9,467.7 L264.3,468.6 L265,470 L266.1,471.4 L267.6,472.4 L268.8,473.8 L269.5,475.1 L270.6,476.1 L271.2,477.5 L271.6,478.9 L272.5,480 M232,398.8 L233.3,399.4 L234.9,399.4 L236.2,400 L237.4,401.4 L238.8,402.4 L240,403.8 L241.7,403.6 L243.3,402.6 L245,402.5 L246.1,403.6 L247.7,404.1 L248.5,405.6 L250,406.2 L251,407.7 L251,409.5 L252.1,410.8 L252.5,412.5 L252.5,414.1 L253.2,415.6 L253.2,417.2 L253.8,418.8 L254.6,420.2 L254.8,421.9 L255.8,423.4 L256.2,425 L256.9,426.3 L257.9,427.4 L258.3,428.9 L259.5,429.9 L260,431.2 L260.6,433 L261.9,434.4 L262.5,436.2 L263,437.6 L264.2,438.6 L264.6,440.1 L265.7,441.1 L266.2,442.5 L267.1,443.9 L268.4,444.8 L268.8,446.5 L270,447.5 L271.4,448.6 L272.3,450.2 L274,451 L275,452.5 L276.6,453.2 L278.4,453 L280,453.8 L280.2,455.5 L281.2,457 L281.2,458.8 L282.3,460.2 L283.9,461.1 L285,462.5 L286,464 L287.6,464.9 L288.8,466.2 L289.8,467.4 L291.4,467.7 L292.5,468.8 L293.1,470.2 L294.4,471.1 L295,472.5 L296.1,473.6 L297.7,473.9 L298.8,475 L299,476.4 L300,477.5 M258,436.2 L261.2,435 L262,440 L258.8,440.5Z M265,467 L267.5,468 L268.5,470.5 L266,470Z M528.8,392 L530.3,391.9 L531,390.2 L532.5,390 L534.3,390.3 L535.6,388.4 L537.5,388.8 L539.5,389.1 L541.2,388 L542.1,386.6 L543.8,386.2 L544.7,384.5 L545,382.5 L545.7,383.9 L545.1,385.7 L546.2,387 L547.3,386 L549.1,386.3 L550,385 L551.4,384 L553.3,384.1 L554.4,382.5 L556.2,382.5 L558,382.9 L559.3,381.3 L561.1,382.2 L562.5,381.2 L563.9,380.4 L565.5,381.7 L567,380.6 L568.5,381.4 L570,380.8 L571.8,381 L573.1,382.5 L575,382.5 L576.4,383.2 L576.4,385.1 L578.2,385.6 L578.8,387 L580.5,388 L581.9,387.3 L582.5,385.7 L584.1,385.1 L585,383.8 L585.9,382.2 L587.9,381.7 L588.8,380 L590.3,378.9 L592.2,378.7 L593.8,377.5 L595.4,377.4 L596.8,378.6 L598.5,377.9 L600,378.8 M560,381.2 L561.6,381.9 L563.4,381.8 L565,382.5 L566.7,382.4 L568.2,381.3 L570,381.2 L571,382.5 L572.7,382.6 L573.8,383.8 L574.7,385.1 L576.4,385.5 L577.1,387.1 L578.8,387.5 L579.7,386 L581.6,385.4 L582.5,383.8 L583.5,382.2 L585.3,381.5 L585.8,379.6 L587.5,378.8 L589.2,379 L590.8,377.8 L592.5,378 L594.1,378.5 L595.9,378.2 L597.5,378.8 L598.9,380.1 L601.1,379.9 L602.5,381.2 L603.5,382.6 L605.2,382.9 L606.1,384.3 L607.5,385 L609.1,385.9 L609.8,387.7 L611.2,388.8 L612.5,389.7 L612.5,391.6 L613.8,392.5 L614.8,394 L614.3,396 L615.5,397.5 L616.4,399.1 L616.6,400.9 L617.5,402.5 L619.1,403.4 L620,405 L620.4,406.4 L621.8,407.3 L622,408.8 L622.7,410.4 L624.8,410.9 L625.5,412.5 L626.3,414 L628.2,414.6 L628.8,416.2 L629.7,417.4 L631.2,417.5 L632.3,418.6 L632.7,420.2 L633.8,421.2 L635.2,421.7 L636.1,423.1 L637.5,423.8 L639,424.2 L639.9,425.6 L641.2,426.2 L642.7,426.8 L643.5,428.3 L645,428.8 L646.5,429.5 L647.1,431.3 L648.8,432 L650.6,431.4 L652.5,431.2 L654.5,431.5 L656.2,430.5 L657.3,429.4 L658.8,429.5 M618.8,360 L621.2,367.5 L625,373.8 L630,380 L635,383.8 L640,386.2 L643.8,392.5 L648.8,400 L653.8,407.5 L657,415 L658.8,422.5 L658.8,429.5 M626.2,330 L625,331.5 L625,333.5 L623.8,335 L622.6,336.3 L623.3,338.5 L621.1,339.4 L621.2,341.2 L621.8,343.1 L619.8,344.2 L620.5,346.1 L619.5,347.5 L618.6,348.9 L619.5,350.8 L617.5,352 L618,353.8 L619.1,355.2 L617.9,356.9 L619.5,358.3 L618.8,360 M642.5,406.2 L646.2,404.5 L648,409.5 L643.8,411.2 L641.2,408.8Z M625.5,477.5 L626.9,476.8 L627.5,475.2 L629.2,474.7 L630,473.3 L631.2,472.5 L632.7,471.7 L633.5,470.2 L635.2,469.8 L636.1,468.3 L637.5,467.5 L639.2,467.1 L640.4,465.7 L642.2,465.6 L643.3,464.2 L645,463.8 L646.6,463.7 L647.8,462.5 L649.4,462.7 L650.7,461.8 L652.4,462 L653.8,461.2 L655.2,460.6 L656.9,460.8 L658.4,459.9 L660,460 L661.5,460.3 L663,459.3 L664.5,460.2 L666,459.2 L667.5,459.5 L669,459.8 L670.5,458.7 L672,459.3 L673.5,458.5 L675,458.8 L676.4,459.3 L678.1,458.8 L679.4,460 L681.1,459.3 L682.5,460 L683.9,460.7 L685.6,460.1 L687,461 L688.5,460.8 L690,461.2 L691.4,461.9 L693,461.6 L694.4,462.5 L696.1,461.9 L697.5,462.5 L699,462.9 L700.5,462.8 L701.9,463.6 L703.6,463 L705,463.8 L706.4,464.5 L708.1,463.9 L709.4,465 L711.1,464.4 L712.5,465 L714,465.8 L715.7,465.1 L717.1,466.4 L718.8,466.2 M640,473.8 L641.6,473.5 L643,472.6 L644.6,472.6 L645.9,471.4 L647.5,471.2 L649,472.2 L651,472.1 L652.5,473 L651.5,473.9 L651.1,475.4 L650,476.2 L651.5,476.6 L653,476.1 L654.5,476.4 L656,476.1 L657.5,476.2 L659.1,476 L660.4,475.1 L662.1,475.1 L663.4,474.1 L665,473.8 L666.7,474 L668.3,473.3 L670,473.7 L671.6,473 L673.4,473.5 L675,473 L676.6,472.5 L678.3,473.1 L680,472.5 L681.7,472.8 L683.3,472.4 L685,472.5 L686.7,472.7 L688.3,472.4 L690,472.9 L691.7,472.7 L693.3,473.1 L695,473 L696.6,473.4 L698,474.3 L699.8,474.3 L701.2,475 L702.3,476.4 L703.8,477.5 M467,128 L468.5,128.1 L469.8,127.4 L471.2,127.5 L472.1,128.8 L473.4,129.9 L474.2,131.2 L474.1,132.9 L474.6,134.6 L474.5,136.2 L473.2,137 L472.5,138.4 L471.2,139.2 L469.5,138.3 L467.5,138 L466.5,136.7 L466.4,135.1 L465.5,133.8 L465.5,131.9 L465.8,130Z M524,167.5 L525,169.5 L523,170.5 L520,171.5 L519,173 M523,166 L528,165 L530,164.4 M570,146.2 L571.5,146.5 L573,145.6 L574.6,146.6 L575.9,144.9 L577.5,145.5 L578.9,146.4 L580.6,145.3 L581.9,146.5 L583.5,145.8 L585,146.2 L586.4,147.5 L588.5,147.1 L590,148 L591.8,148.5 L593.2,146.9 L595.1,147.6 L596.6,146.6 L598.4,147 L600,146.2 M513.8,83 L515.2,83.9 L516.9,83.5 L518.3,84.5 L520,84.5 L521.5,84.8 L522.2,86.5 L523.9,86.5 L525,87.5 L525.6,89 L527.5,89.6 L528,91.2 L529.2,90.6 L530,89.5 L531,88.3 L532.7,88.6 L533.8,87.5 L533.9,85.8 L535,84.5 L536.8,84.6 L538.2,83.2 L540,83 M652.5,287.5 L651.1,287.9 L650,288.8 L649.2,289.8 L648.1,290.6 L647.3,292.1 L646.9,293.8 L646.5,295.4 L645.6,296.9 L644.7,298 L644.6,299.5 L643.8,300.6 L643.2,301.8 L643.1,303.1 L641.6,303.9 L640,304.4 L638.8,305.8 L638.1,307.5 L637.6,308.8 L636.7,309.9 L636.2,311.2 L635.9,312.7 L634.7,313.6 L634.4,315 L634.1,316.4 L633.1,317.5 M675.7,108.9 L677.9,108.4 L678.9,107.7 L679.7,106.7 L680.5,105.5 L681.9,104.9 L683.3,104.1 L684.1,102.7 L685,101.7 L686.2,101 L687.3,99.4 L688,97.5 L688.2,95.8 L689.3,94.4 L690.3,93 L690.6,91.4 L690.9,89.7 L691.9,88.3 L691.5,86.1 L693.7,85.7 L694.5,84.7 L695,83.5 M692.8,89.6 L692.4,93.1 L693.7,94 L695,93.1 L696.3,91.4 M696.3,91.8 L705.5,85.7 L700.7,92.2 L702.9,94 L698.5,93.1Z M696.3,91.8 L695.9,94 L694.6,97.5 L692.8,102.7 L691.1,107.1 L689.7,110.6 L689.7,113.2 L691.5,115.9 L693.2,118.5 L695,119.8 M648,205 L649.5,209 L649,214 L648,218 L647,221 L645,222 L642,220 L639.5,217 L637.5,216 M635,216.8 L637.5,220 L640,221.5 L644,221.5 L646,223.8 L647,226.5 L648.5,230 L649,234 L648,238 L647,242 L647.5,247 L647,251 L646,252.5 M643,241.5 L643.5,243.4 L644.5,245 L644.9,246.3 L644.6,247.7 L645,249 L645.9,250.6 L646,252.5 M625.5,239.5 L625.7,241.1 L626.5,242.5 L628.1,241.3 L630,241.5 L631.3,242.5 L633,242.5 L634.5,241.1 L636.5,241 L637.7,242.6 L639.5,243.5 M639.5,243.5 L639.4,245.4 L640.5,247 L641.3,248.4 L641.5,250 L641.8,251.6 L642.5,253 L643.5,254.3 L643.5,256 L645.5,257 L646.9,256.8 L648,256 M447.5,479 L447.7,477.5 L447.1,476 L447.5,474.5 L446.7,473 L447.2,471.5 L446.7,470 L446.7,468.5 L446.3,466.8 L444.9,465.7 L444.5,464 L444.3,462.5 L443.6,461 L443.6,459.5 L442.6,458.1 L442.8,456.4 L442.2,455 L441.9,453.5 L442.3,452 L441.7,450.5 L442.1,449 L441.3,447.5 L441.5,446 L442.4,444.6 L442.6,442.8 L443.7,441.5 L444.9,440.3 L445.4,438.7 L446.7,437.7 L447.5,436.5 L447.5,435 L448.7,433.9 L449,432.5 L450.4,431.6 L452,431 L453.6,430.4 L455,429.5 L456.4,428.6 L458.2,428.3 L459.5,427.2 L460.9,426.1 L462.7,425.6 L464,424.2 L464.5,422.8 L465.7,421.9 L466.2,420.5 L466.6,418.8 L467.7,417.5 L467.7,415.9 L467,414.5 L469.2,413.7 L470.3,414.7 L470.7,416 L472.2,415.6 L473,414.1 L474.5,413.7 L475.8,412.9 L476.9,411.6 L478.2,410.7 L479,409.7 L479.3,408.5 L480.7,408.3 L482.1,408.7 L483.6,408.1 L485,408.5 L486.5,409 L488,408.7 L489.5,409.2 L491,409.2 L492.5,409.2 L494,409.9 L495.5,409.3 L497,410.1 L498.5,410 L498.9,408.7 L499.7,407.6 L500,406.2 L501,405.3 L502.2,404.7 L503.4,405.6 L504.9,406 L506,407 L507.9,407.2 L509.7,407 L511.2,408.2 L512,410 L513.4,411 L515.1,411.2 L516.5,412.2 L517.8,411.6 L518.8,410.5 L520.2,410 L521.3,409.1 L521.7,407.7 L523.5,406.9 L525.5,407 L526.5,405.6 L527,404 L528.5,403.7 L530,404 L529.6,405.5 L530,407 L531.5,407 L532.9,407.9 L534.5,407.7 L535.9,406.8 L537.5,406.2 L538.2,407.7 L536.9,408.3 L536,409.6 L534.5,410 L533.7,408.2 L532.2,407 L530.8,406.6 L530,405.1 L528.5,404.7 M518.7,395.7 L521.7,393.5 L526.2,394.2 L527,396.5 L523.2,398 L519.5,397.7Z M527.7,395 L528.8,396.2 L530.6,396.6 L531.5,398 L530.6,399.1 L530.7,400.6 L530,401.7 L528.9,402.7 L528.5,404"/>
</g>
<g fill="none" stroke="#000" stroke-width="2.4" stroke-linejoin="round" stroke-linecap="round">
<path d="M110.6,83.1 L110.7,85.2 L111.9,86.9 L112.2,88.5 L111.5,90 L112,91.5 L113.1,92.5 L113.6,91.3 L114.8,90.6 L116,89.3 L115.6,87.5 L116.3,85.8 L117.5,84.4 L119,82.8 M113.1,92.5 L113.3,94 L114.8,94.8 L115,96.2 L114.8,97.9 L116.1,99.1 L116.2,100.6 L116.6,102 L118.2,102.5 L118.8,103.8 L117.2,104.4 L116.7,102.7 L115.6,101.2 L114.8,99.9 L115,98.2 L114,96.9 L113.3,95.5 L113.6,93.8 L112.5,92.5 M128.8,86.9 L128.2,89.2 L131.3,89.8 L131.2,91.9 L131.8,93.7 L134.3,94 L133.6,96.8 L135.6,97.5 L137.3,98.5 L136,100.5 L138.3,101.3 L137.5,103.1 L137.8,104.8 L140.4,104.8 L139.2,107.7 L141.2,108.1 L143,107.7 L143.3,110.2 L145,110 M133.1,83.5 L133.1,85.3 L136,85.3 L134.1,88.3 L136.2,88.8 L137.6,87 L139.9,89.1 L141.2,87.5 L142,85.8 L143.8,86.2 L142.8,87.6 L144.4,89.2 L142.5,90.4 L143.1,91.9 L144.6,92 L145.2,93.9 L146.9,93.8 L146.6,95.7 L144,95.6 L143.8,97.5 L146,98.5 L144.4,101.3 L146.2,102.5 L148.3,103.3 L147.5,106 L149.4,106.9 L150.9,105.5 L152.5,106.9 L150.8,107.2 L152,109.9 L150,110 L147.6,109.1 L146.2,111.2 L146.6,113.2 L143.9,112.8 L143.8,114.4 L144.2,116.4 L142.5,117.5 L141,119 L143.7,121 L141.9,122.5 L141.4,124.9 L143.8,125.6 L145.5,125.9 L144.8,128.7 L146.9,128.8 L148.8,128.5 L148.6,130.9 L150,131.2 L152.1,130.9 L151.6,134.2 L153.8,133.8 L155.7,133.7 L156.2,135.6 L157.7,134.5 L157.2,132.3 L158.8,131.2 L158.4,133.4 L160,135 L160.7,137.3 L158.8,138.8 L159.7,140 L161.7,139.8 L162.5,141.2 L164,140.1 L162.3,137.9 L164.6,137 L163.1,134.8 L165,133.8 L164.4,135.3 L166,136.6 L165.6,138.1 L164.6,139.4 L166.4,141.5 L164.4,142.5 L165.1,144.1 L167.4,143.3 L168.1,145 L170.2,145 L171.2,143.1 L172,144.7 L170,145.9 L170.6,147.5 L172.3,148.2 L171,150.4 L172.5,151.2 L174.2,150.8 L175.6,151.9 L174.3,153.2 L175,155 M131.2,83.5 L130.1,84.6 L131.4,86.5 L130,87.5 L129.8,89.4 L131.8,90.1 L131.3,92.1 L132.8,93.1 L133.7,91.3 L135.6,90.6 L135.8,88.9 L133.8,88 L134,86.2 L135.8,85.6 L136.2,83.8 M137.5,95 L137.8,96.6 L139.5,97.3 L140,98.8 L140.4,100.4 L142.5,100.5 L143.1,101.9 L141.9,103.2 L141.9,105 L140.2,104.1 L139.4,102.5 L139.4,100.9 L137.4,100.3 L137.5,98.8 M135.6,128.1 L135.7,130.2 L136.9,131.9 L138.5,132.3 L137.9,134.5 L139.4,135 L139.1,136.8 L137.5,137.8 L138.8,139.1 L140.6,139.8 L142.2,140.5 L143.1,141.9 L143.7,143.1 L145.5,143.4 L145.6,145 L145.9,146.5 L147.9,146.6 L148.1,148.1 L148.8,149.3 L150,150 L151.8,150.3 L151.4,152.7 L153.1,153.1 L154.4,153.7 L155,155 M155,155 L154.6,156.4 L155.6,157.5 L156.7,156.6 L158.4,156.8 L159.4,155.6 L160.6,156.2 L160.2,157.7 L158.6,158.5 L158.1,160 L156.9,161.9 L158.3,162.3 L158.7,163.9 L160,164.4 L161.5,164.6 L162.5,165.6 M175,155 L175.2,156.9 L174.8,158.6 L177.2,159 L176.9,160.6 L178.1,161.5 L178.2,163.5 L179.4,165 L179.8,167 L178.1,168.1 L178.1,169.9 L179.4,171.2 L181.2,172.7 L180.6,175 L179.9,176.1 L180,177.5 L180.5,178.9 L179.4,180 M171.2,152.5 L172.9,152.5 L174.4,151.9 L176.2,152.5 L176.5,154.7 L175,156.2 M179.4,177.5 L179.8,179.1 L180.6,180.6 L180.6,182.4 L179.4,183.8 L177.9,184.4 L176.9,185.6 L175.4,186.6 L173.8,186.9 L172.7,185.8 L171.2,185.6 L170.6,184.1 L170.6,182.5 L171.8,181.5 L171.9,180 L172.9,178.7 L174.4,178.1 L175.7,178.2 L176.9,177.5 L177.8,178.6 L178.1,180 L177,181.1 L176.2,182.5 L175.1,183.4 L173.8,183.8 L173.1,181.9 L174.6,181.3 L175.6,180 M405,85.6 L406.2,84 L408.1,83.1 M305,190 L307,189.7 L308.8,188.8 L310.6,188 L312.5,188 L314.5,187.9 L316.2,187 L317.3,185.9 L318.9,185.6 L320,184.5 L322,183.8 L322,185.5 L321.2,187 L321.2,188.8 M343.8,180 L345.4,180.1 L347.1,179.5 L348.8,179.5 L349.9,180.3 L351.3,180.5 L352.5,181.2 L353.6,182.3 L355.1,182.7 L356.2,183.8 L356.5,185.2 L357.5,186.2 L359.1,185.6 L360.9,186.1 L362.5,185.5 L363.9,184.9 L365.6,185.1 L367,184.5 M372.5,196.2 L372.8,197.9 L373.7,199.3 L373.7,201 L374.5,202.5 L374.7,204.2 L373.8,205.8 L373.8,207.5 L374.8,209.1 L375,211 L376.2,212.5 L376.2,214.3 L375.1,215.7 L375,217.5 L376.5,218.5 L377.4,220.1 L378.8,221.2 L377.2,222.3 L375.3,222.2 L373.8,223 L375.1,223.5 L376.1,224.7 L377.5,225 M416.2,155 L416.9,153.5 L416.7,151.8 L417.6,150.4 L417.5,148.8 L418.6,147.3 L420.3,146.6 L421.2,145 L422.7,145.6 L423.4,147.1 L425,147.5 L425.6,149 L425.1,150.7 L426.5,152.1 L426.2,153.8 L424.6,154.6 L424.1,156.6 L422.5,157.5 L420.4,157.5 L418.8,158.8 L418.6,157.1 L419.8,155.7 L419.1,153.9 L420,152.5 L421.7,152.4 L423,151.2 M430,156.2 L431.1,157.1 L432.7,157.1 L433.8,158 L435.5,158.9 L437.5,158.8 L438.9,159.1 L439.7,160.5 L441.2,160.5 M428.8,133.8 L430.4,134.4 L432.2,134.1 L433.8,135 L435.2,134.5 L436,133 L437.5,132.5 L439,131.9 L439.7,130.3 L441.6,130.1 L442.5,128.8 L442.4,130.5 L441.4,132 L441.2,133.8 L440.2,134.9 L438.5,135.1 L437.5,136.2 L435.7,137.2 L433.8,137 M475.6,145.6 L474.4,148.8 L472.8,152.5 M567.5,170 L569,170.2 M592.5,170.6 L593.9,170.3 L595,169.4 L596.5,168.8 L598.1,169 L597.1,169.7 L596.2,170.6 L595.1,171.2 L593.8,171.2 M584,189.4 L585,190.2 M555,223.5 L556.2,224 M630,86.9 L633.1,86.9 M625.6,140 L625,143.8 L626.9,147.5 L627.5,151.2 L628.8,155 M677.5,109.4 L678.3,111 L680,111.9 L680.2,113.9 L677.7,114.4 L677.5,116.2 L677.4,118 L675.1,118.3 L675,120 L674.4,121.8 L671.8,121.3 L671.2,123.1 L670.4,124.6 L668.8,125 L667.3,124.7 L666.2,125.6 L667.1,127.7 L665.6,129.4 L665.9,131 L667.5,131.2 L667.4,133 L665.4,133.5 L665,135 L664.3,136.8 L662.5,137.5 L661.5,138.5 L661.9,140.3 L660.6,141.2 L659.3,143 L660,145 L660.2,146.8 L658.2,148.1 L658.8,150 L659.9,151.7 L657.3,153.3 L658.5,155 M590,101.2 L591,102.5 L592.5,103.1 L594.4,103.3 L596.2,103.8 L594.8,104.4 L593.8,105.6 L592.1,105.5 L590.6,105 M628.1,150 L629.4,153.8 L632.5,157.5 M237,452 L239,454.5 M684.5,393.8 L685.8,394.6 L687.5,394.6 L688.8,395.5 L689.9,396.2 L691.3,396.3 L692.5,397 L692.9,398.5 L694,399.8 L694.5,401.2 L693.7,402.6 L693.8,404.2 L693,405.5 L692.8,404 L691.9,402.7 L691.5,401.2 L690.9,399.5 L690,398 L688.6,397.7 L687.7,396.5 L686.2,396.2Z M686.2,420.5 L687.6,420.6 L688.8,420 L689.7,421.1 L690.2,422.6 L691.2,423.8 L692.4,424.8 L693,426.3 L694.4,427.3 L695,428.8 L696.1,429.8 L697.6,430.2 L698.8,431.2 L699.3,432.6 L700.5,433.3 L701.2,434.5 L699.9,435.2 L698.8,436.2 L697.4,435.6 L696.4,434.3 L695,433.8 L693.6,433.1 L692.6,431.9 L691.2,431.2 L689.8,430.7 L688.9,429.3 L687.5,428.8 L686.7,427.6 L686.6,426.1 L685.8,425Z M696.2,431.2 L699.5,433.8 M713.8,464.5 L718,466.2 M161.2,183.1 L161.5,184.7 L162.8,185.6 L161.9,186.7 L160.8,187.5 L160.8,188.9 L161.5,190 L161.4,191.4 L160.1,192.3 L160,193.8 L161.2,194.5 L162,195.6 L161.1,196.5 L160.8,197.8 M514.5,160 L515.5,161.2 L517,161.5 L517.2,163.1 L516.5,164.5 L517.5,165.7 L519,166 L519.7,164.7 L521,164 L521.1,165.4 L522,166.5 L524,167.5 M585,105 L586.6,104.5 L587.3,102.7 L588.8,102 L590.7,102.1 L592.5,101.2 L594.2,102 L594.6,104.2 L596.2,105 L595.3,106.3 L593.5,106.4 L592.5,107.5 L590.9,108.1 L589.1,107.5 L587.5,108 M543.8,120 L545.7,120.3 L547.5,119.5 L549.3,119.7 L550.7,121.2 L552.5,121.2 L550.8,122.3 L548.8,122.5 M655.6,263.8 L656.3,265.3 L658.1,265.9 L658.8,267.5 L656.9,268.1 L655.7,269.6 L655,271.2 L655.9,273 L655.6,275 L654.7,276.4 L655.8,278 L655,279.4 L655.3,280.8 L656.2,281.9 L656.2,283.9 L655,285.6 L653.5,286.2 L652.5,287.5 M633.1,317.5 L632.2,319.1 L632.5,321.1 L631.2,322.5 L630.4,323.6 L630.7,325.3 L629.4,326.2 L628.1,327.2 L628.7,328.9 L627.8,330 M636.2,255.6 L637.7,256.8 L639.7,256 L641.2,256.9 L642.6,257.9 L644.3,256.6 L645.6,257.5 L646.6,258.7 L648.5,258.6 L649.4,260 M645,270 L646.5,270.1 L647.9,269.1 L649.4,269.4 L651.1,269.1 L651.9,267.5 L650.5,267 L650,265.6 M645.6,278.1 L647.2,278.7 L648.4,277 L650,277.5 L651.6,277.7 L652.5,276.2 M648.1,284.4 L649.7,284.4 L651.2,283.8 M690.2,86.1 L693.7,85.9 M695,119.8 L697.2,120.2 L699.4,120.7 L701.1,120.7 L702.9,119.4 L703.7,118 L703.7,116.3 L704.1,114.8 L705.5,114.1 L705.9,112.4 L705.9,110.6 L705.6,109.2 L706.6,107.7 L705.9,106.2 L705.5,104.8 L705.5,103.2 L705.8,101.8 L705.1,100.6 L705.2,99 L706.4,97.9 L707.9,97.5 L709,96.2 L711.2,96.6 L710.7,94.9 L711.3,93.6 L712.5,92.7 L712.9,91.4 L713.8,90 L715.1,89.2 L716.4,88.1 L716.9,86.6 L717.3,85.3 L718.2,84.4 L718.6,83.1 M689.7,109.7 L690.2,113.7 M634,219 L632.7,219.9 L633.2,221.9 L631.4,222.5 L631,224 L630.8,225.7 L628.9,226.6 L629,228.5 L630.4,229.2 L630.4,231 L631.5,232 L633,233.3 L634,235 L634.5,236.5 L636.6,236.4 L637,238 L637.9,239.5 L639.5,240 M635.5,221 L634.6,222.6 L635.3,224.4 L634.5,226 L634.8,227.5 L636.1,228.5 L636.5,230 L636.8,231.6 L638.7,232.3 L639,234 L639.5,235.4 L641,236.4 L641.2,238 L641.9,239.9 L643,241.5 M632.5,245.5 L634.2,246.2 L636,246.5 L637.4,246.8 L638.5,248 L640,248 M635.5,251 L637.1,252 L639,252 L640.6,252.2 L642,253 M636,255 L637.7,255.4 L639.5,255.5 L641.1,255.3 L642.5,256 M648,256 L649.5,257 L653.5,261 L657,265 L658.8,267.5 M145.2,115.6 L144.3,117.1 L145.1,119.1 L144,120.6 L143.8,122.4 L145.8,123.1 L146,124.8 L146.7,126.4 L149,126.6 L149.4,128.5 L150,130.2 L152.6,129.6 L153.1,131.5 M137.5,88.8 L137.6,90.5 L139.8,90.8 L139.4,92.8 L140.6,93.8 L141.9,94.8 L141.7,96.8 L144.3,96.9 L144.4,98.8 L145,100.2 L147,100.7 L146.7,102.8 L148.1,103.8 M449.3,431.7 L450.7,431.4 L452,430.7 L453.5,430.8 L454.7,431.7 M441.8,445.2 L443.1,443.9 L443.7,442.2 L445.1,440.9 L446.7,440 M466.7,414.8 L469.2,416"/>
</g>
</g>
<rect x="100.5" y="82.5" width="620" height="396" fill="none" stroke="#000" stroke-width="1.1"/>
<g stroke="none">
<rect x="100.5" y="498.5" width="155" height="20" fill="#fee2d5"/>
<rect x="255.5" y="498.5" width="155" height="20" fill="#fc9879"/>
<rect x="410.5" y="498.5" width="155" height="20" fill="#f03f2e"/>
<rect x="565.5" y="498.5" width="155" height="20" fill="#a50f15"/>
</g>
<path d="M255.5,513V518.5 M410.5,513V518.5 M565.5,513V518.5" stroke="#000" stroke-width="1" fill="none"/>
<rect x="100.5" y="498.5" width="620" height="20" fill="none" stroke="#000" stroke-width="1.1"/>
<text x="410" y="74.7" font-size="20" text-anchor="middle">Day 141, 15 events</text>
<g font-size="16.67" text-anchor="middle">
<text x="100" y="534.6">0.1</text>
<text x="255" y="534.6">1.0</text>
<text x="410" y="534.6">2.0</text>
<text x="565" y="534.6">3.0</text>
<text x="720" y="534.6">4.0</text>
<text x="410" y="557">N Events</text>
</g>
</svg>
</body></html>
